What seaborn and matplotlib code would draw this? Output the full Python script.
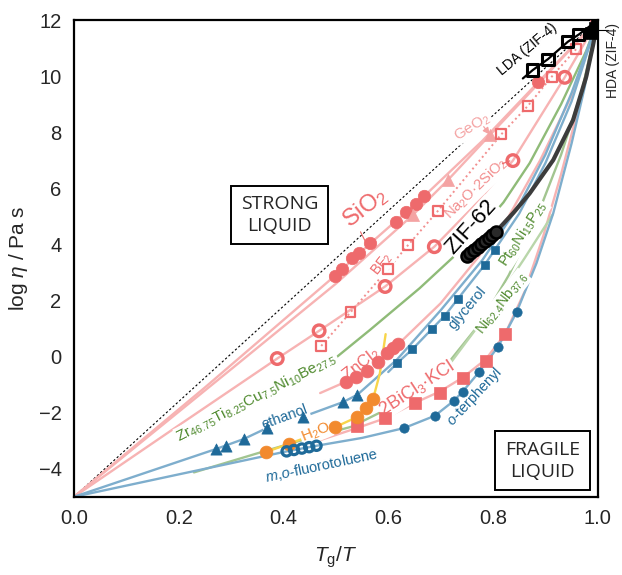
import numpy as np
import pandas as pd
import seaborn as sns
import matplotlib.pyplot as plt

# Angell plot: x = Tg/T, y = log10(viscosity / Pa s)

# SiO2 (filled circles)
sio2_x = [0.498, 0.511, 0.530, 0.544, 0.566, 0.614, 0.634, 0.653, 0.669, 0.886, 1.0]
sio2_y = [2.88, 3.13, 3.51, 3.71, 4.04, 4.79, 5.17, 5.44, 5.73, 9.78, 12.0]
sio2_line_x = [0.0, 0.25, 0.498, 0.566, 0.669, 0.78, 0.886, 1.0]
sio2_line_y = [-5.0, -1.1, 2.88, 4.04, 5.73, 7.7, 9.78, 12.0]

# GeO2 (triangles)
geo2_x = [0.647, 0.714, 0.794]
geo2_y = [5.05, 6.30, 7.90]
geo2_line_x = [0.0, 0.3, 0.5, 0.647, 0.714, 0.794, 0.9, 1.0]
geo2_line_y = [-5.0, -0.45, 2.6, 5.05, 6.30, 7.90, 10.0, 12.0]

# Na2O.2SiO2 (open circles)
nas_x = [0.388, 0.468, 0.594, 0.688, 0.838, 0.937, 1.0]
nas_y = [-0.07, 0.92, 2.50, 3.92, 6.99, 9.96, 12.0]
nas_line_x = [0.0, 0.2, 0.388, 0.468, 0.594, 0.688, 0.76, 0.838, 0.937, 1.0]
nas_line_y = [-5.0, -2.45, -0.07, 0.92, 2.50, 3.92, 5.3, 6.99, 9.96, 12.0]

# BF2 (open squares, dotted)
bf2_x = [0.472, 0.528, 0.600, 0.638, 0.695, 0.816, 0.867, 0.912, 0.959]
bf2_y = [0.38, 1.58, 3.13, 3.98, 5.20, 7.93, 8.95, 9.98, 10.97]

# ZnCl2
zncl2_x = [0.520, 0.538, 0.560, 0.581, 0.597, 0.609, 0.619]
zncl2_y = [-0.89, -0.73, -0.50, -0.18, 0.12, 0.32, 0.44]
zncl2_line_x = [0.47, 0.520, 0.560, 0.597, 0.619, 0.70, 0.77, 0.83, 0.89, 0.95, 1.0]
zncl2_line_y = [-1.3, -0.89, -0.50, 0.12, 0.44, 1.9, 3.5, 5.0, 7.0, 9.3, 12.0]

# 2BiCl3.KCl (filled squares)
bicl_x = [0.540, 0.594, 0.652, 0.698, 0.742, 0.786, 0.823]
bicl_y = [-2.46, -2.20, -1.64, -1.30, -0.75, -0.14, 0.80]
bicl_line_x = [0.45, 0.54, 0.594, 0.652, 0.698, 0.742, 0.786, 0.823, 0.86, 0.896, 0.93, 0.965, 1.0]
bicl_line_y = [-3.1, -2.55, -2.2, -1.64, -1.25, -0.75, -0.1, 0.80, 2.3, 4.3, 6.5, 9.0, 12.0]

# H2O (orange circles, yellow line)
h2o_x = [0.366, 0.410, 0.498, 0.540, 0.557, 0.571]
h2o_y = [-3.41, -3.11, -2.52, -2.16, -1.82, -1.51]
h2o_line_x = [0.366, 0.410, 0.498, 0.540, 0.557, 0.571, 0.584, 0.595]
h2o_line_y = [-3.41, -3.11, -2.52, -2.16, -1.82, -1.51, -0.6, 0.8]

# ethanol (triangles)
eth_x = [0.272, 0.291, 0.324, 0.368, 0.438, 0.514, 0.541]
eth_y = [-3.29, -3.18, -2.94, -2.55, -2.14, -1.62, -1.36]
eth_line_x = [0.0, 0.272, 0.324, 0.368, 0.438, 0.514, 0.541, 0.617, 0.70, 0.78, 0.85, 0.90, 0.95, 1.0]
eth_line_y = [-5.0, -3.29, -2.94, -2.55, -2.14, -1.62, -1.36, -0.1, 1.65, 3.45, 5.4, 7.2, 9.4, 12.0]

# glycerol (small squares)
gly_x = [0.617, 0.646, 0.683, 0.708, 0.733, 0.784, 0.803]
gly_y = [-0.23, 0.26, 0.98, 1.46, 2.06, 3.27, 3.80]
gly_line_x = [0.60, 0.617, 0.646, 0.683, 0.708, 0.733, 0.784, 0.803, 0.85, 0.90, 0.95, 1.0]
gly_line_y = [-0.55, -0.23, 0.26, 0.98, 1.46, 2.06, 3.27, 3.80, 5.1, 6.9, 9.1, 12.0]

# m,o-fluorotoluene (open circles) and o-terphenyl (filled circles) on the lower blue curve
mof_x = [0.406, 0.420, 0.435, 0.449, 0.463]
mof_y = [-3.38, -3.33, -3.28, -3.23, -3.18]
otp_x = [0.630, 0.689, 0.725, 0.742, 0.773, 0.810, 0.845]
otp_y = [-2.55, -2.11, -1.58, -1.25, -0.56, 0.36, 1.58]
low_line_x = [0.0, 0.2, 0.406, 0.463, 0.55, 0.630, 0.689, 0.725, 0.742, 0.773, 0.810, 0.845, 0.883, 0.915, 0.95, 0.975, 1.0]
low_line_y = [-5.0, -4.2, -3.38, -3.18, -2.9, -2.55, -2.11, -1.58, -1.25, -0.56, 0.36, 1.58, 3.33, 5.11, 7.6, 9.6, 12.0]

# metallic glass formers (green lines)
zr_x = [0.30, 0.398, 0.496, 0.565, 0.66, 0.756, 0.82, 0.87, 0.93, 0.978, 1.0]
zr_y = [-2.14, -1.13, -0.1, 0.95, 2.44, 4.1, 5.5, 6.9, 9.0, 10.9, 12.0]
ni_x = [0.229, 0.35, 0.45, 0.53, 0.60, 0.667, 0.72, 0.78, 0.83, 0.88, 0.93, 0.97, 1.0]
ni_y = [-4.13, -3.45, -2.9, -2.5, -1.85, -1.0, -0.1, 1.3, 2.9, 4.8, 7.2, 9.5, 12.0]
pt_x = [0.68, 0.72, 0.76, 0.81, 0.86, 0.914]
pt_y = [-0.9, -0.2, 0.8, 2.1, 3.5, 5.07]

# ZIF-62 (dark circles + thick line), ZIF-4 LDA (open squares), HDA (filled squares)
zif62_x = [0.750, 0.757, 0.764, 0.771, 0.778, 0.785, 0.792, 0.799, 0.806]
zif62_y = [3.60, 3.70, 3.80, 3.91, 4.01, 4.12, 4.23, 4.34, 4.45]
zif62_line_x = [0.750, 0.806, 0.84, 0.870, 0.915, 0.953, 0.978, 0.991, 1.0]
zif62_line_y = [3.60, 4.46, 5.15, 5.82, 7.01, 8.44, 9.98, 11.1, 12.0]
lda_x = [0.876, 0.905, 0.943, 0.964]
lda_y = [10.22, 10.61, 11.23, 11.49]
lda_line_x = [0.857, 0.876, 0.905, 0.943, 0.964, 1.0]
lda_line_y = [9.92, 10.22, 10.61, 11.23, 11.49, 12.0]
hda_x = [0.988, 0.994, 0.999]
hda_y = [11.55, 11.72, 11.88]

RED = "#ee6a6c"
PINK = "#f7b3b3"
LBLUE = "#7eaecd"
DBLUE = "#1f6a99"
GREEN = "#a2c590"
DGREEN = "#4f8a2e"
ORANGE = "#f28a2e"
YELLOW = "#f8d54a"

sns.set_style("white")
plt.rcParams["font.family"] = ["Liberation Sans", "DejaVu Sans"]
plt.rcParams["mathtext.fontset"] = "custom"
plt.rcParams["mathtext.rm"] = "Liberation Sans"
plt.rcParams["mathtext.it"] = "Liberation Sans:italic"

fig = plt.figure(figsize=(6.22, 5.75), dpi=100)
ax = fig.add_axes([0.119, 0.136, 0.842, 0.829])


def curve(xs, ys, color, lw=1.7, ls="-", z=2):
    sns.lineplot(x=xs, y=ys, color=color, linewidth=lw, linestyle=ls,
                 sort=False, estimator=None, ax=ax, zorder=z)


def dots(xs, ys, marker, s, color, z=4):
    sns.scatterplot(x=xs, y=ys, marker=marker, s=s, color=color,
                    edgecolor=color, linewidth=0.5, ax=ax, zorder=z, legend=False)


def rings(xs, ys, marker, s, color, lw=2.0, z=4):
    sns.scatterplot(x=xs, y=ys, marker=marker, s=s, facecolor="none",
                    edgecolor=color, linewidth=lw, ax=ax, zorder=z, legend=False)


# strong limit
curve([0.0, 1.0], [-5.0, 12.0], "black", lw=0.8, ls=(0, (2, 2)), z=1)

# lines
curve(sio2_line_x, sio2_line_y, PINK)
curve(geo2_line_x, geo2_line_y, PINK)
curve(nas_line_x, nas_line_y, PINK)
curve(bf2_x, bf2_y, "#f28f8f", lw=1.4, ls=(0, (1, 1.6)))
curve(zncl2_line_x, zncl2_line_y, PINK)
curve(bicl_line_x, bicl_line_y, PINK)
curve(zr_x, zr_y, "#8fbb78")
curve(ni_x, ni_y, GREEN)
curve(pt_x, pt_y, "#b9d6aa")
curve(eth_line_x, eth_line_y, LBLUE)
curve(gly_line_x, gly_line_y, LBLUE)
curve(low_line_x, low_line_y, LBLUE)
curve(h2o_line_x, h2o_line_y, YELLOW)
curve(zif62_line_x, zif62_line_y, "#3c3c3c", lw=3.0, z=3)
curve(lda_line_x, lda_line_y, "black", lw=1.6, z=3)

# markers
dots(sio2_x, sio2_y, "o", 80, RED)
dots(geo2_x, geo2_y, "^", 75, "#f4a3a3")
rings(nas_x, nas_y, "o", 70, RED, lw=2.4)
rings(bf2_x, bf2_y, "s", 50, RED, lw=1.6)
dots(zncl2_x, zncl2_y, "o", 85, RED)
dots(bicl_x, bicl_y, "s", 75, RED)
dots(h2o_x, h2o_y, "o", 85, ORANGE)
dots(eth_x, eth_y, "^", 65, DBLUE)
dots(gly_x, gly_y, "s", 32, DBLUE)
rings(mof_x, mof_y, "o", 45, DBLUE, lw=2.3)
dots(otp_x, otp_y, "o", 45, DBLUE)
sns.scatterplot(x=zif62_x, y=zif62_y, marker="o", s=75, color="#2a2a2a",
                edgecolor="black", linewidth=1.8, ax=ax, zorder=5, legend=False)
rings(lda_x, lda_y, "s", 65, "black", lw=2.2, z=5)
dots(hda_x, hda_y, "s", 70, "black", z=5)

# labels (white background so the lines break around them)
def lab(x, y, s, color, size, rot, bg=True):
    bbox = dict(boxstyle="square,pad=0.05", fc="white", ec="none") if bg else None
    ax.text(x, y, s, color=color, fontsize=size, rotation=rot, ha="center",
            va="center", rotation_mode="anchor", zorder=3.5, bbox=bbox)


lab(0.555, 5.30, "SiO$_2$", RED, 17, 38)
ax.plot([0.547, 0.557], [4.45, 4.08], color=RED, lw=0.8, zorder=3.6)
lab(0.588, 3.30, "BF$_2$", RED, 10, 52)
lab(0.760, 8.18, "GeO$_2$", "#f4a3a3", 11, 32)
ax.annotate("", xy=(0.797, 7.84), xytext=(0.779, 8.28),
            arrowprops=dict(arrowstyle="-|>", color="#f4a3a3", lw=0.9), zorder=3.6)
lab(0.768, 5.98, "Na$_2$O·2SiO$_2$", "#f28f8f", 10.5, 44)
ax.plot([0.818, 0.832], [6.88, 6.98], color=RED, lw=0.9, zorder=3.6)
lab(0.758, 4.62, "ZIF-62", "black", 16, 48)
lab(0.866, 10.95, "LDA (ZIF-4)", "black", 10, 40, bg=False)
ax.text(1.030, 10.55, "HDA (ZIF-4)", fontsize=10, rotation=90, ha="center",
        va="center", clip_on=False)
ax.plot([1.0, 1.02], [11.65, 11.65], color="black", lw=0.8, clip_on=False)
lab(0.752, 1.72, "glycerol", DBLUE, 10.5, 50)
lab(0.858, 4.38, "Pt$_{60}$Ni$_{15}$P$_{25}$", DGREEN, 10.5, 57)
lab(0.817, 1.90, "Ni$_{62.4}$Nb$_{37.6}$", DGREEN, 10.5, 52)
lab(0.765, -1.42, "$o$-terphenyl", DBLUE, 10.5, 47)
lab(0.654, -1.12, "2BiCl$_3$·KCl", RED, 13, 33)
lab(0.549, -0.28, "ZnCl$_2$", RED, 12, 38)
lab(0.462, -2.72, "H$_2$O", ORANGE, 11, 22)
lab(0.473, -3.88, "$m$,$o$-fluorotoluene", DBLUE, 10.5, 12)
lab(0.403, -2.15, "ethanol", DBLUE, 10.5, 20)
lab(0.349, -1.45, "Zr$_{46.75}$Ti$_{8.25}$Cu$_{7.5}$Ni$_{10}$Be$_{27.5}$", DGREEN, 11, 27)

box = dict(boxstyle="square,pad=0.5", fc="white", ec="black", lw=1.4)
ax.text(0.393, 5.05, "STRONG\nLIQUID", fontsize=14, ha="center", va="center",
        family=["Open Sans", "DejaVu Sans"], bbox=box, zorder=7, linespacing=1.25)
ax.text(0.895, -3.72, "FRAGILE\nLIQUID", fontsize=14, ha="center", va="center",
        family=["Open Sans", "DejaVu Sans"], bbox=box, zorder=7, linespacing=1.25)

ax.set_xlim(0, 1)
ax.set_ylim(-5, 12)
ax.set_xticks(np.arange(0, 1.01, 0.2))
ax.set_xticklabels([f"{v:.1f}" for v in np.arange(0, 1.01, 0.2)])
ax.set_yticks(np.arange(-4, 13, 2))
ax.tick_params(length=0, labelsize=14.5, pad=9)
ax.set_xlabel("$T_\\mathrm{g}/T$", fontsize=15, labelpad=12)
ax.set_ylabel("log $\\eta$ / Pa s", fontsize=15, labelpad=6)
for sp in ax.spines.values():
    sp.set_color("black")
    sp.set_linewidth(1.6)

fig.savefig("out.png", dpi=100)
